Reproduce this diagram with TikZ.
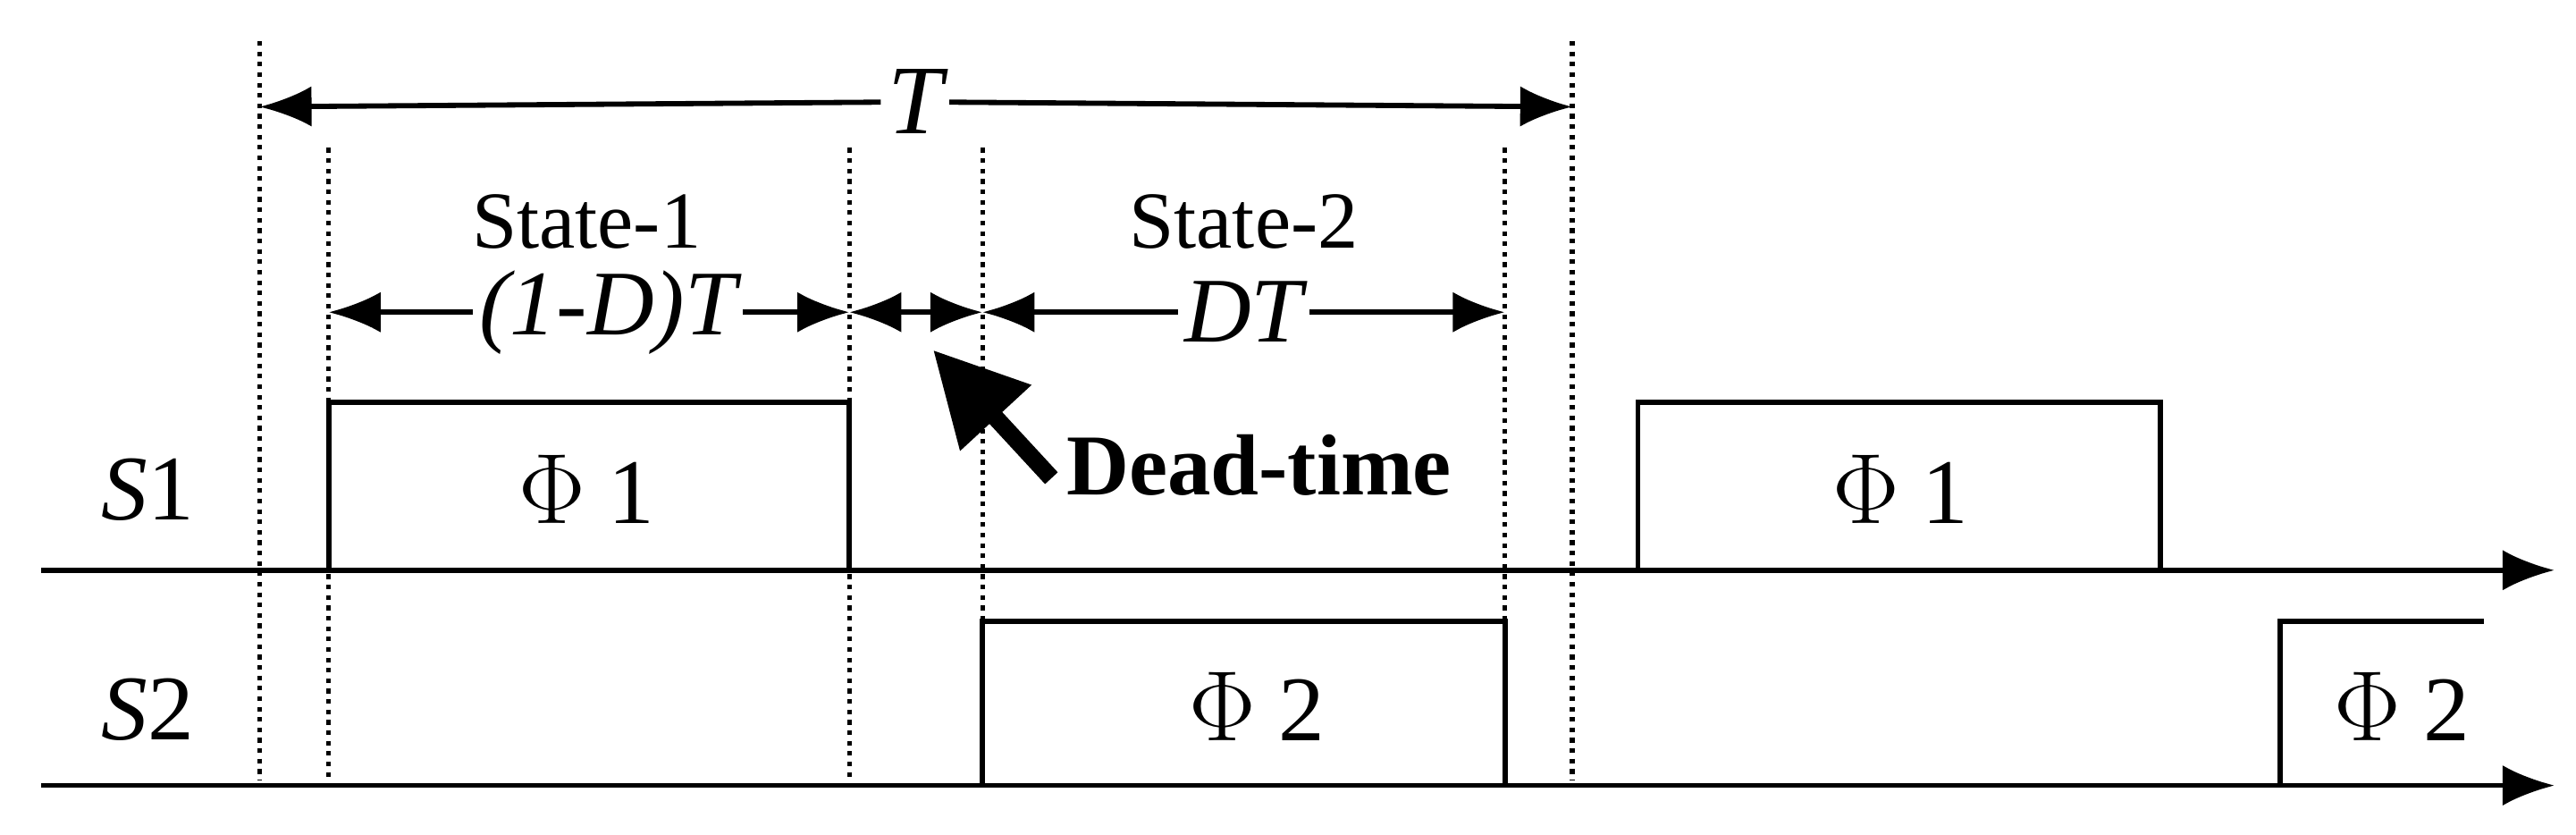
\documentclass[tikz,border=0pt]{standalone}
\usepackage{fontspec}
\setmainfont{Liberation Serif}
\usetikzlibrary{arrows.meta}
\begin{document}
\begin{tikzpicture}[x=0.01cm,y=-0.01cm,
    guide/.style={densely dotted, line width=0.8pt},
    dim/.style={line width=0.9pt, -{Latex[length=9pt,width=7pt]}},
    wave/.style={line width=0.9pt},
    lbl/.style={font=\fontsize{14}{14}\selectfont, inner sep=1pt}]
  \useasboundingbox (0,0) rectangle (1568,508);
  % guide lines
  \foreach \x in {158,957} \draw[guide] (\x,25) -- (\x,475);
  \foreach \x in {200,517,598,916} \draw[guide] (\x,90) -- (\x,475);
  % period
  \node[lbl, font=\fontsize{17}{17}\selectfont\itshape, fill=white] (per) at (557,62) {T};
  \coordinate (pl) at (158,65); \coordinate (pr) at (957,65);
  \draw[dim] (per) -- (pl); \draw[dim] (per) -- (pr);
  % state 1
  \node[lbl] (st1) at (357,135) {State-1};
  \node[lbl, font=\fontsize{16}{16}\selectfont\itshape] (d1) at (370,190) {(1-D)T};
  \coordinate (a1) at (200,190); \coordinate (b1) at (517,190);
  \draw[dim] (d1) -- (a1); \draw[dim] (d1) -- (b1);
  % state 2
  \node[lbl] (st2) at (757,135) {State-2};
  \node[lbl, font=\fontsize{16}{16}\selectfont\itshape] (d2) at (757,190) {DT};
  \coordinate (a2) at (598,190); \coordinate (b2) at (916,190);
  \draw[dim] (d2) -- (a2); \draw[dim] (d2) -- (b2);
  % dead-time
  \coordinate (dm) at (558,190);
  \draw[dim] (dm) -- (b1); \draw[dim] (dm) -- (a2);
  \node[lbl, font=\fontsize{15}{15}\selectfont\bfseries, anchor=west] (dt) at (645,283) {Dead-time};
  \coordinate (dtip) at (568,213);
  \draw[line width=3pt, -{Triangle[length=16pt,width=16pt]}] (dt.west) ++(-5,8) -- (dtip);
  % axes
  \coordinate (s1a) at (25,347); \coordinate (s1b) at (1555,347);
  \coordinate (s2a) at (25,478); \coordinate (s2b) at (1555,478);
  \draw[dim] (s1a) -- (s1b); \draw[dim] (s2a) -- (s2b);
  \node[lbl, font=\fontsize{16}{16}\selectfont] (s1) at (90,298) {\textit{S}1};
  \node[lbl, font=\fontsize{16}{16}\selectfont] (s2) at (90,432) {\textit{S}2};
  % pulses
  \draw[wave] (200,347) -- (200,245) -- (517,245) -- (517,347);
  \draw[wave] (997,347) -- (997,245) -- (1315,245) -- (1315,347);
  \draw[wave] (598,478) -- (598,378) -- (916,378) -- (916,478);
  \draw[wave] (1388,478) -- (1388,378) -- (1512,378);
  \node[lbl, font=\fontsize{16}{16}\selectfont] (p1a) at (357,298) {$\Phi$ 1};
  \node[lbl, font=\fontsize{16}{16}\selectfont] (p1b) at (1157,298) {$\Phi$ 1};
  \node[lbl, font=\fontsize{16}{16}\selectfont] (p2a) at (765,430) {$\Phi$ 2};
  \node[lbl, font=\fontsize{16}{16}\selectfont] (p2b) at (1462,430) {$\Phi$ 2};
\end{tikzpicture}
\end{document}
